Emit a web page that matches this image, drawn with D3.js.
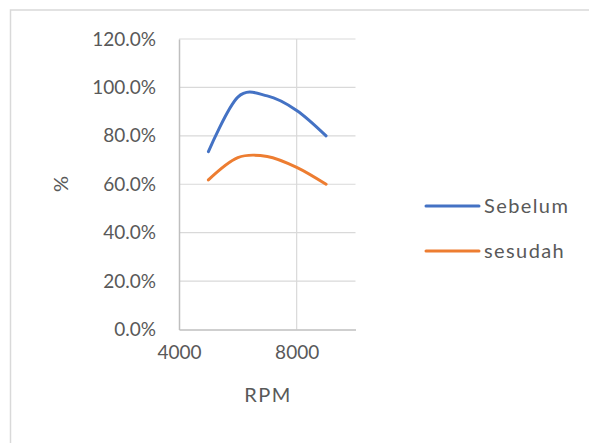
<!DOCTYPE html>
<html><head><meta charset="utf-8">
<script src="https://cdn.jsdelivr.net/npm/d3@7"></script>
<style>body{margin:0;background:#fff}svg{display:block}text{font-family:Lato,"Open Sans",sans-serif;fill:#595959}</style>
</head><body>
<script>
const rpm = [5000, 6000, 7000, 8000, 9000];
const sebelum = [0.735, 0.96, 0.965, 0.905, 0.80];
const sesudah = [0.618, 0.71, 0.715, 0.67, 0.60];
const seriesNames = ["Sebelum", "sesudah"];
const colors = ["#4472C4", "#ED7D31"];
const xTicks = [4000, 8000];
const yTicks = [0, 0.2, 0.4, 0.6, 0.8, 1.0, 1.2];

const W = 589, H = 443, FS = "19px", FL = "20px";
const svg = d3.select("body").append("svg").attr("width", W).attr("height", H);
svg.append("rect").attr("x", 10.5).attr("y", 10).attr("width", 600).attr("height", 500)
  .attr("fill", "none").attr("stroke", "#d9d9d9").attr("stroke-width", 1.5);

const x = d3.scaleLinear().domain([4000, 10000]).range([179, 355.5]);
const y = d3.scaleLinear().domain([0, 1.2]).range([329.5, 39]);

// gridlines
svg.append("g").selectAll("line").data(yTicks.slice(1)).join("line")
  .attr("x1", x(4000)).attr("x2", x(10000)).attr("y1", d => y(d)).attr("y2", d => y(d))
  .attr("stroke", "#d9d9d9").attr("stroke-width", 1.2);
svg.append("g").selectAll("line").data(xTicks.slice(1)).join("line")
  .attr("x1", d => x(d)).attr("x2", d => x(d)).attr("y1", y(0)).attr("y2", y(1.2))
  .attr("stroke", "#d9d9d9").attr("stroke-width", 1.2);

// axes
const yAxis = d3.axisLeft(y).tickValues(yTicks).tickFormat(d3.format(".1%")).tickSize(0).tickPadding(23);
const gy = svg.append("g").attr("transform", `translate(${x(4000)},0)`).call(yAxis);
gy.select(".domain").attr("stroke", "#bfbfbf").attr("stroke-width", 1.5);
gy.selectAll("text").style("font-size", FS).attr("fill", "#595959");

const xAxis = d3.axisBottom(x).tickValues(xTicks).tickFormat(d3.format("d")).tickSize(0).tickPadding(16);
const gx = svg.append("g").attr("transform", `translate(0,${y(0)})`).call(xAxis);
gx.select(".domain").attr("stroke", "#bfbfbf").attr("stroke-width", 1.5);
gx.selectAll("text").style("font-size", FS).attr("fill", "#595959");

svg.append("text").attr("x", 268).attr("y", 402).attr("text-anchor", "middle")
  .style("font-size", FL).style("letter-spacing", "1.5px").text("RPM");
svg.append("text").attr("transform", "translate(68,184) rotate(-90)").attr("text-anchor", "middle")
  .style("font-size", FL).text("%");

const line = d3.line().x(d => x(d[0])).y(d => y(d[1])).curve(d3.curveCatmullRom.alpha(0));
[sebelum, sesudah].forEach((vals, i) => {
  svg.append("path").datum(rpm.map((r, j) => [r, vals[j]])).attr("d", line)
    .attr("fill", "none").attr("stroke", colors[i]).attr("stroke-width", 3).attr("stroke-linecap", "round");
});

// legend
const leg = svg.append("g");
seriesNames.forEach((n, i) => {
  const ly = 206 + i * 45;
  leg.append("line").attr("x1", 426).attr("x2", 479).attr("y1", ly).attr("y2", ly)
    .attr("stroke", colors[i]).attr("stroke-width", 3).attr("stroke-linecap", "round");
  leg.append("text").attr("x", 484).attr("y", ly).attr("dy", "0.35em")
    .style("font-size", FL).style("letter-spacing", "1.4px").text(n);
});
</script>
</body></html>
